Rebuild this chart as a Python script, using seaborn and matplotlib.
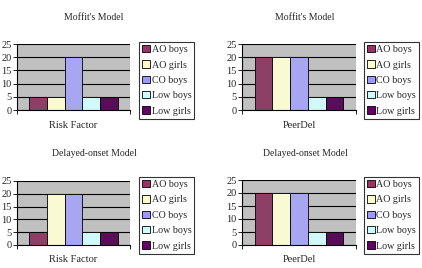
import matplotlib
matplotlib.use("Agg")
import matplotlib.pyplot as plt
import seaborn as sns
import pandas as pd
from matplotlib.patches import Patch

groups = ["AO boys", "AO girls", "CO boys", "Low boys", "Low girls"]
colors = ["#993366", "#FFFFCC", "#9999FF", "#CCFFFF", "#660066"]

titles = ["Moffit's Model", "Moffit's Model", "Delayed-onset Model", "Delayed-onset Model"]
factors = ["Risk Factor", "PeerDel", "Risk Factor", "PeerDel"]
values_tl = [5, 5, 20, 5, 5]
values_tr = [20, 20, 20, 5, 5]
values_bl = [5, 20, 20, 5, 5]
values_br = [20, 20, 20, 5, 5]
all_values = [values_tl, values_tr, values_bl, values_br]
yticks = [0, 5, 10, 15, 20, 25]

sns.set_style("white")
plt.rcParams["font.family"] = ["Liberation Serif", "DejaVu Serif"]

W, H = 422, 268
fig = plt.figure(figsize=(W / 100, H / 100), dpi=100)

# pixel boxes: (left, top, right, bottom) for axes; legend box (left, top)
axes_px = [(17, 44, 130, 110), (242, 44, 356, 110), (17, 181, 130, 245), (242, 180, 356, 245)]
legend_px = [(139, 42, 195, 120), (364, 42, 416, 120), (139, 177, 195, 257), (364, 177, 416, 257)]
title_y = [17, 17, 153, 153]
xlabel_y = [125, 125, 260, 260]

for i in range(4):
    l, t, r, b = axes_px[i]
    ax = fig.add_axes([l / W, 1 - b / H, (r - l) / W, (b - t) / H])
    df = pd.DataFrame({"factor": [factors[i]] * 5, "group": groups, "value": all_values[i]})
    sns.barplot(data=df, x="factor", y="value", hue="group", hue_order=groups,
                palette=colors, edgecolor="black", linewidth=0.6, width=0.78,
                ax=ax, legend=False)
    ax.set_facecolor("#C0C0C0")
    ax.set_ylim(0, 25)
    ax.set_xlim(-0.5, 0.5)
    ax.set_yticks(yticks)
    ax.set_yticklabels([str(v) for v in yticks], fontsize=7.5)
    ax.set_xticks([-0.5, 0.5])
    ax.set_xticklabels(["", ""])
    ax.tick_params(axis="both", direction="out", length=3, width=0.6, color="black",
                   left=True, bottom=True, pad=1)
    ax.set_axisbelow(True)
    ax.yaxis.grid(True, color="black", linewidth=0.8)
    for s in ["top", "right"]:
        ax.spines[s].set_visible(False)
    for s in ["left", "bottom"]:
        ax.spines[s].set_color("black")
        ax.spines[s].set_linewidth(0.8)
    ax.set_xlabel("")
    ax.set_ylabel("")
    fig.text(((l + r) / 2) / W, 1 - xlabel_y[i] / H, factors[i],
             ha="center", va="center", fontsize=7.5)
    fig.text((94 if i % 2 == 0 else 305) / W, 1 - title_y[i] / H, titles[i],
             ha="center", va="center", fontsize=7)

    ll, lt, lr, lb = legend_px[i]
    handles = [Patch(facecolor=c, edgecolor="black", linewidth=0.6) for c in colors]
    leg = fig.legend(handles, groups, loc="upper left",
                     bbox_to_anchor=(ll / W, 1 - lt / H), bbox_transform=fig.transFigure,
                     fontsize=7.2, frameon=True, fancybox=False, borderpad=0.3,
                     handlelength=0.75, handleheight=0.75, handletextpad=0.2,
                     labelspacing=0.62, borderaxespad=0)
    leg.get_frame().set_edgecolor("black")
    leg.get_frame().set_linewidth(0.8)

fig.savefig("out.png", dpi=100, facecolor="white")
